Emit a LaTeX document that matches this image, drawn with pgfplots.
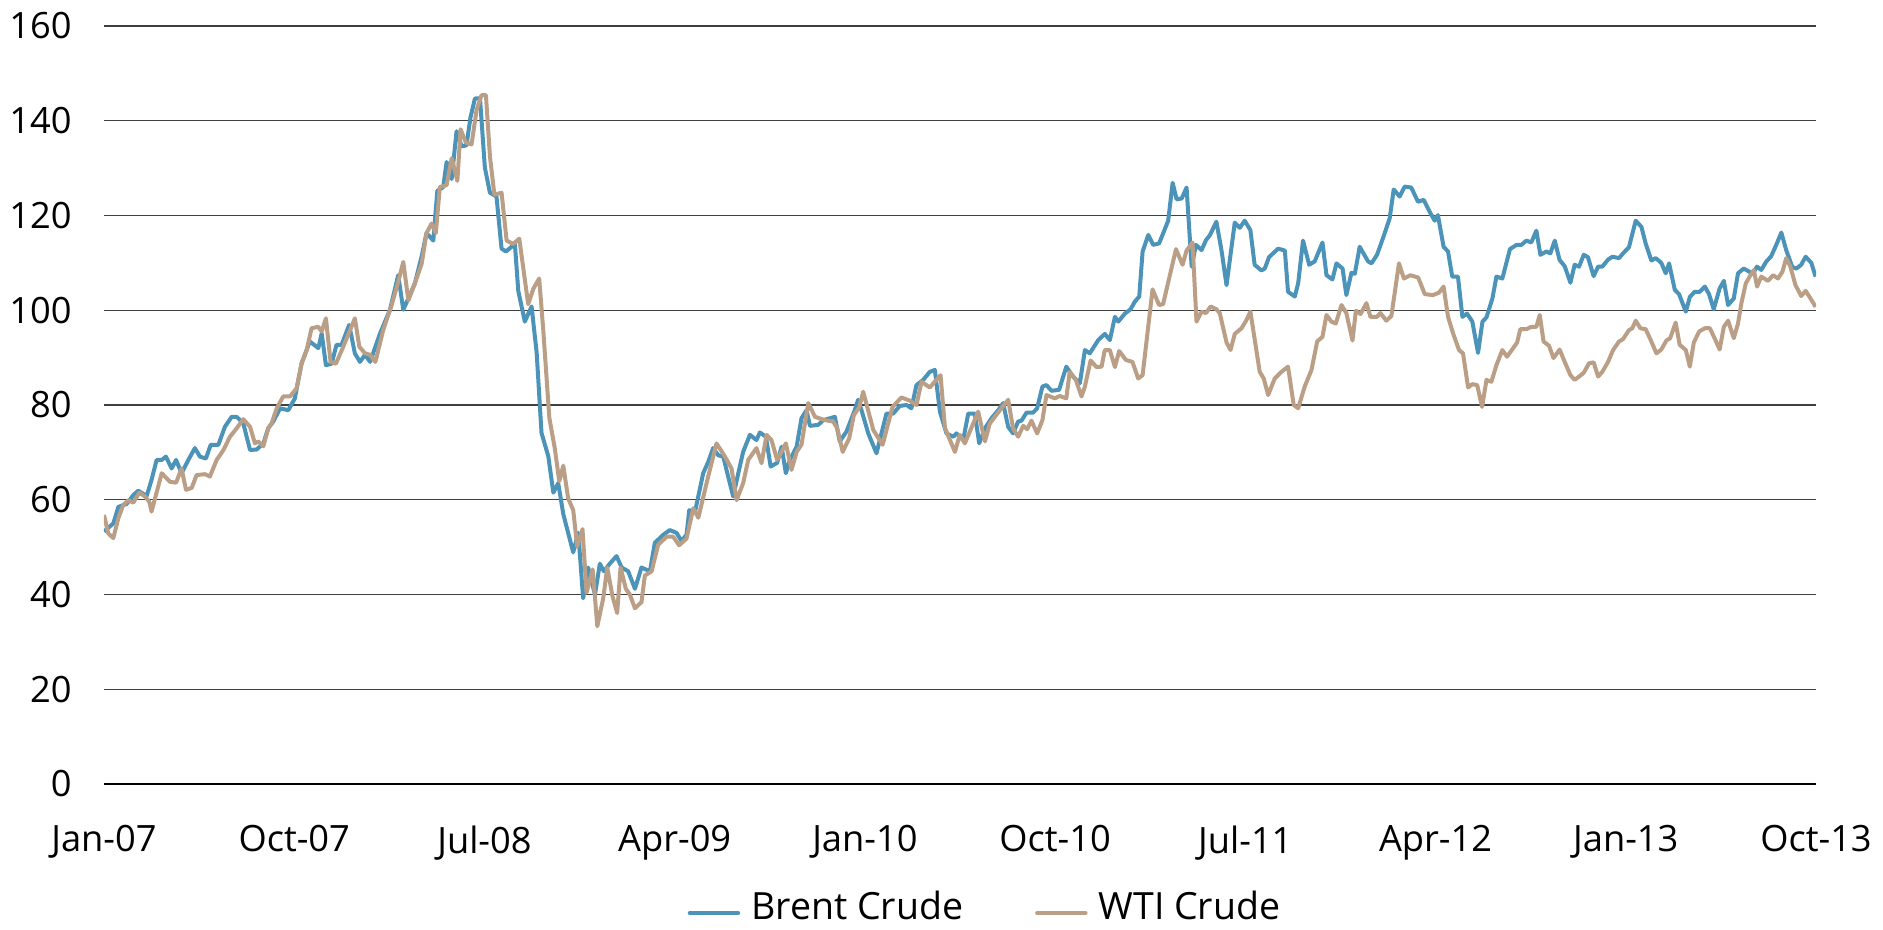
\documentclass[border=0pt]{standalone}
\usepackage{fontspec}
\setmainfont{Open Sans}
\usepackage{pgfplots}
\usepackage{pgfplotstable}
\pgfplotsset{compat=1.18}

\definecolor{brent}{HTML}{4B93B9}
\definecolor{wti}{HTML}{BA9E85}
\definecolor{gridc}{HTML}{404040}

% x = months since Jan-07, y = USD per barrel
\pgfplotstableread{
m v
0 53.3
0.44 55.0
0.68 58.5
1.07 59.1
1.39 61.0
1.62 61.9
2.02 60.8
2.25 64.2
2.49 68.4
2.73 68.4
2.93 69.1
3.2 66.6
3.41 68.4
3.67 65.6
3.99 68.4
4.3 70.9
4.54 69.1
4.82 68.7
5.05 71.6
5.41 71.6
5.72 75.4
6.04 77.5
6.28 77.5
6.59 76.1
6.91 70.5
7.22 70.6
7.54 71.9
7.77 75.1
8.01 76.5
8.33 79.3
8.72 78.9
9.03 81.4
9.35 88.8
9.74 93.4
10.14 92.0
10.3 95.1
10.5 88.4
10.77 88.7
11.0 92.7
11.24 92.7
11.6 96.9
11.87 90.9
12.11 89.1
12.35 90.6
12.59 89.1
13.06 95.1
13.53 100.1
13.92 107.4
14.16 100.1
14.4 102.5
14.71 105.7
15.03 111.4
15.26 116.3
15.58 114.7
15.77 125.2
16.05 126.0
16.21 131.3
16.45 127.7
16.68 137.8
16.92 134.6
17.15 134.8
17.34 140.7
17.55 144.7
17.79 144.7
18.02 130.1
18.26 124.8
18.57 124.0
18.81 113.0
19.02 112.4
19.44 114.0
19.6 104.1
19.91 97.6
20.23 100.8
20.47 91.1
20.7 74.1
21.02 69.2
21.26 61.5
21.49 63.5
21.73 57.0
21.96 53.0
22.2 48.9
22.44 53.0
22.67 39.2
22.91 45.7
23.23 40.0
23.46 46.5
23.65 44.9
23.93 46.5
24.25 48.1
24.49 45.7
24.8 44.9
25.12 41.2
25.43 45.7
25.83 44.9
26.06 50.9
26.46 52.6
26.77 53.6
27.09 53.0
27.32 51.3
27.56 52.6
27.69 57.8
27.96 57.4
28.35 65.6
28.59 68.0
28.82 70.9
29.06 69.4
29.3 69.1
29.53 64.9
29.77 60.7
30.01 65.6
30.24 70.1
30.56 73.7
30.87 72.6
31.03 74.2
31.32 73.3
31.54 67.0
31.85 67.8
32.06 71.2
32.26 65.6
32.45 68.4
32.77 71.2
33.0 77.2
33.24 78.9
33.4 75.6
33.79 75.8
34.03 76.8
34.58 77.5
34.81 72.3
35.13 74.4
35.52 78.9
35.68 81.1
35.84 78.9
36.16 74.0
36.55 69.8
37.02 78.2
37.34 78.2
37.65 79.8
37.97 80.0
38.2 79.3
38.44 84.2
38.76 85.3
39.07 87.0
39.31 87.4
39.55 78.6
39.86 74.0
40.18 73.3
40.33 74.0
40.65 72.6
40.89 78.2
41.2 78.2
41.41 71.9
41.68 75.1
41.99 77.2
42.31 78.9
42.54 80.4
42.78 75.4
43.01 74.0
43.25 76.5
43.41 76.7
43.65 78.4
43.96 78.4
44.15 79.3
44.4 83.9
44.59 84.2
44.83 83.0
45.19 83.2
45.53 88.1
45.85 86.0
46.17 84.6
46.41 91.6
46.64 90.9
47.04 93.7
47.35 95.0
47.59 93.7
47.83 98.6
47.99 97.6
48.3 99.3
48.57 100.2
48.77 101.8
48.98 102.9
49.14 112.4
49.41 115.9
49.64 113.8
49.92 114.1
50.35 118.9
50.56 126.9
50.75 123.4
50.99 123.6
51.22 125.9
51.46 109.2
51.66 113.8
51.93 112.7
52.14 114.8
52.33 115.9
52.63 118.7
52.87 112.7
53.11 105.3
53.5 118.5
53.74 117.4
53.97 118.9
54.24 116.9
54.44 109.6
54.76 108.4
54.92 108.8
55.12 111.2
55.55 113.0
55.87 112.6
56.02 103.9
56.34 102.9
56.5 105.7
56.73 114.7
57.02 109.6
57.28 110.3
57.65 114.3
57.84 107.4
58.12 106.5
58.31 109.9
58.6 108.8
58.78 103.2
59.02 107.9
59.18 107.7
59.41 113.4
59.81 110.3
59.97 109.9
60.23 111.7
60.48 114.8
60.83 119.4
61.02 125.5
61.3 124.0
61.54 126.1
61.85 125.9
62.17 122.9
62.44 123.3
62.72 120.8
62.96 118.9
63.11 120.1
63.38 113.4
63.59 112.4
63.79 107.1
64.06 107.1
64.27 98.6
64.49 99.3
64.74 97.6
65.01 91.0
65.22 97.6
65.41 98.5
65.69 102.5
65.88 107.1
66.16 106.7
66.52 112.9
66.83 113.8
67.06 113.8
67.3 114.7
67.53 114.3
67.77 116.8
67.96 111.7
68.24 112.4
68.43 112.0
68.64 114.7
68.87 110.6
69.11 109.3
69.38 105.8
69.58 109.6
69.79 109.2
70.01 111.7
70.21 111.2
70.48 107.2
70.69 109.2
70.89 109.2
71.16 110.7
71.37 111.3
71.68 111.0
71.87 112.0
72.15 113.3
72.47 118.9
72.74 117.6
72.94 114.1
73.21 110.5
73.42 111.0
73.68 110.0
73.89 107.8
74.05 109.9
74.32 104.3
74.52 103.4
74.84 99.7
75.03 102.8
75.26 103.9
75.5 103.9
75.74 105.0
75.94 103.4
76.16 100.2
76.44 104.6
76.64 106.2
76.84 101.1
77.11 102.5
77.31 107.8
77.58 108.8
77.86 108.1
78.02 107.8
78.21 109.2
78.41 108.5
78.65 110.3
78.88 111.4
79.12 113.8
79.36 116.4
79.59 112.7
79.88 109.1
80.07 108.8
80.3 109.6
80.51 111.3
80.78 110.0
80.98 107.1
}\brent

\pgfplotstableread{
m v
0 56.8
0.2 52.9
0.44 51.9
0.68 56.1
0.91 58.9
1.15 59.9
1.39 59.4
1.67 61.5
1.94 60.7
2.14 59.6
2.25 57.5
2.73 65.6
3.12 63.8
3.41 63.6
3.67 66.6
3.88 62.1
4.15 62.5
4.38 65.2
4.78 65.4
5.01 64.9
5.33 68.4
5.65 70.5
5.96 73.3
6.28 75.1
6.59 77.0
6.91 75.4
7.14 71.9
7.3 72.3
7.54 71.3
7.77 75.1
7.93 76.1
8.17 79.3
8.48 81.8
8.8 81.8
9.11 83.5
9.35 88.8
9.59 91.6
9.82 96.2
10.14 96.5
10.3 95.5
10.5 98.3
10.72 89.1
10.97 88.7
11.32 92.3
11.64 95.8
11.87 98.3
12.08 92.3
12.35 90.9
12.59 90.6
12.84 89.1
13.21 95.8
13.61 101.1
13.92 106.0
14.16 110.2
14.4 102.1
14.71 105.7
15.03 109.8
15.26 116.3
15.5 118.3
15.7 116.3
15.89 126.0
16.21 126.4
16.45 132.1
16.72 127.3
16.87 138.2
17.12 135.4
17.39 135.0
17.63 142.3
17.86 145.4
18.07 145.4
18.26 132.5
18.47 124.4
18.81 124.8
19.05 114.7
19.36 114.0
19.65 115.1
19.91 106.5
20.07 101.3
20.31 104.5
20.59 106.7
20.78 96.0
21.07 77.3
21.33 70.8
21.54 63.9
21.73 67.2
21.96 60.3
22.2 57.8
22.39 50.1
22.64 53.8
22.83 40.4
23.12 45.3
23.34 33.3
23.62 39.2
23.81 45.7
24.06 39.6
24.28 36.1
24.44 45.7
24.69 41.2
24.88 40.0
25.12 37.1
25.43 38.4
25.59 44.0
25.91 44.9
26.22 50.5
26.62 52.2
26.93 52.2
27.21 50.4
27.56 51.8
27.88 58.2
28.12 56.2
28.51 63.5
28.98 71.9
29.38 69.1
29.69 66.6
29.93 59.9
30.24 63.5
30.48 68.4
30.87 70.9
31.11 67.7
31.35 73.7
31.58 72.6
31.85 68.4
32.26 71.9
32.53 66.3
32.77 70.1
33.0 71.6
33.32 80.4
33.64 77.5
34.11 76.8
34.5 76.5
34.69 75.1
34.95 70.1
35.26 73.0
35.48 77.9
35.73 79.5
35.92 82.8
36.4 74.7
36.84 71.6
37.31 79.6
37.73 81.6
38.13 80.9
38.44 80.0
38.68 84.9
39.07 83.7
39.58 86.3
39.79 75.1
40.26 70.1
40.49 73.7
40.73 71.9
41.36 78.6
41.68 72.3
41.91 76.1
42.39 78.9
42.78 81.1
43.01 75.1
43.25 73.3
43.49 75.6
43.68 74.9
43.88 76.7
44.15 74.0
44.4 76.8
44.59 82.1
44.99 81.4
45.22 81.9
45.53 81.4
45.69 87.0
45.98 85.3
46.25 81.8
46.41 83.9
46.68 89.4
46.96 88.0
47.2 88.1
47.35 91.6
47.59 91.6
47.83 88.0
48.03 91.4
48.35 89.5
48.66 89.1
48.93 85.6
49.14 86.3
49.61 104.4
49.92 101.1
50.11 101.3
50.43 107.4
50.72 112.9
51.03 109.6
51.22 112.6
51.5 114.3
51.69 97.6
51.93 99.7
52.14 99.4
52.36 100.8
52.63 100.2
52.79 99.4
53.11 93.2
53.3 91.6
53.5 95.0
53.82 96.2
54.05 97.9
54.24 99.7
54.68 87.0
54.87 85.6
55.08 82.1
55.39 85.6
55.71 87.0
56.02 88.1
56.29 80.0
56.5 79.3
56.81 83.9
57.13 87.4
57.4 93.4
57.65 94.4
57.84 99.0
58.07 97.6
58.28 97.2
58.55 101.1
58.78 99.4
59.07 93.6
59.23 99.9
59.45 99.2
59.73 101.5
59.92 98.6
60.23 98.6
60.39 99.4
60.67 97.8
60.91 98.8
61.27 109.9
61.5 106.7
61.81 107.4
62.18 106.9
62.49 103.4
62.88 103.2
63.16 103.7
63.38 105.0
63.59 98.6
63.83 95.1
64.11 91.6
64.3 90.9
64.54 83.7
64.74 84.4
64.97 84.2
65.2 79.6
65.41 85.3
65.64 84.9
65.88 88.4
66.16 91.6
66.38 90.2
66.67 92.0
66.86 93.2
67.01 96.0
67.3 96.0
67.53 96.5
67.77 96.5
67.93 99.0
68.11 93.4
68.37 92.5
68.58 89.9
68.87 91.7
69.11 89.1
69.38 86.3
69.58 85.3
69.82 86.1
70.01 86.8
70.26 88.8
70.48 89.0
70.69 86.0
70.89 87.0
71.16 89.1
71.4 91.6
71.68 93.4
71.87 93.9
72.15 95.8
72.31 96.2
72.47 97.8
72.69 96.2
72.94 96.0
73.16 93.9
73.45 90.9
73.68 91.7
73.92 93.6
74.1 94.1
74.36 97.4
74.55 92.7
74.84 91.6
75.03 88.1
75.22 93.2
75.47 95.5
75.74 96.2
75.98 96.2
76.2 94.1
76.44 91.7
76.64 96.5
76.84 97.8
77.11 94.1
77.31 97.2
77.47 101.5
77.68 105.7
77.9 107.4
78.06 108.5
78.21 105.0
78.41 107.1
78.73 106.2
78.97 107.4
79.2 106.7
79.41 108.1
79.59 111.0
79.78 109.3
80.03 105.3
80.3 103.0
80.51 104.1
80.78 102.2
80.98 100.7
}\wti

\begin{document}
\begin{tikzpicture}
\useasboundingbox (-41.6pt,-58.4pt) rectangle (711.6pt,313.6pt);
\begin{axis}[
    scale only axis,
    width=684.8pt, height=303.2pt,
    xmin=0, xmax=81, ymin=0, ymax=160,
    axis x line*=bottom,
    axis y line*=left,
    x axis line style={draw=black, line width=0.8pt, -},
    y axis line style={draw=none},
    xtick={0,9,18,27,36,45,54,63,72,81},
    xticklabels={Jan-07,Oct-07,Jul-08,Apr-09,Jan-10,Oct-10,Jul-11,Apr-12,Jan-13,Oct-13},
    ytick={0,20,...,160},
    major tick length=0pt,
    ymajorgrids,
    grid style={draw=gridc, line width=0.5pt},
    tick label style={font=\fontsize{14.5}{17}\selectfont, text=black},
    /pgf/number format/assume math mode=true,
    xticklabel style={anchor=north, inner sep=0pt, yshift=-16.4pt},
    yticklabel style={anchor=east, inner sep=0pt, xshift=-12.8pt},
    legend columns=2,
    legend style={at={(0.514,-0.162)}, anchor=center, draw=none, fill=none,
        font=\fontsize{15}{18}\selectfont,
        nodes={inner sep=0pt},
        /tikz/every odd column/.append style={column sep=4.4pt},
        /tikz/every even column/.append style={column sep=28.8pt}},
    legend image code/.code={\draw[#1, line width=1.8pt, line cap=round] (0.6pt,-2.5pt) -- (19.8pt,-2.5pt);},
]
\addplot[brent, line width=1.6pt, line join=round] table[x=m, y=v] {\brent};
\addlegendentry{Brent Crude}
\addplot[wti, line width=1.6pt, line join=round] table[x=m, y=v] {\wti};
\addlegendentry{WTI Crude}
\end{axis}
\end{tikzpicture}
\end{document}
